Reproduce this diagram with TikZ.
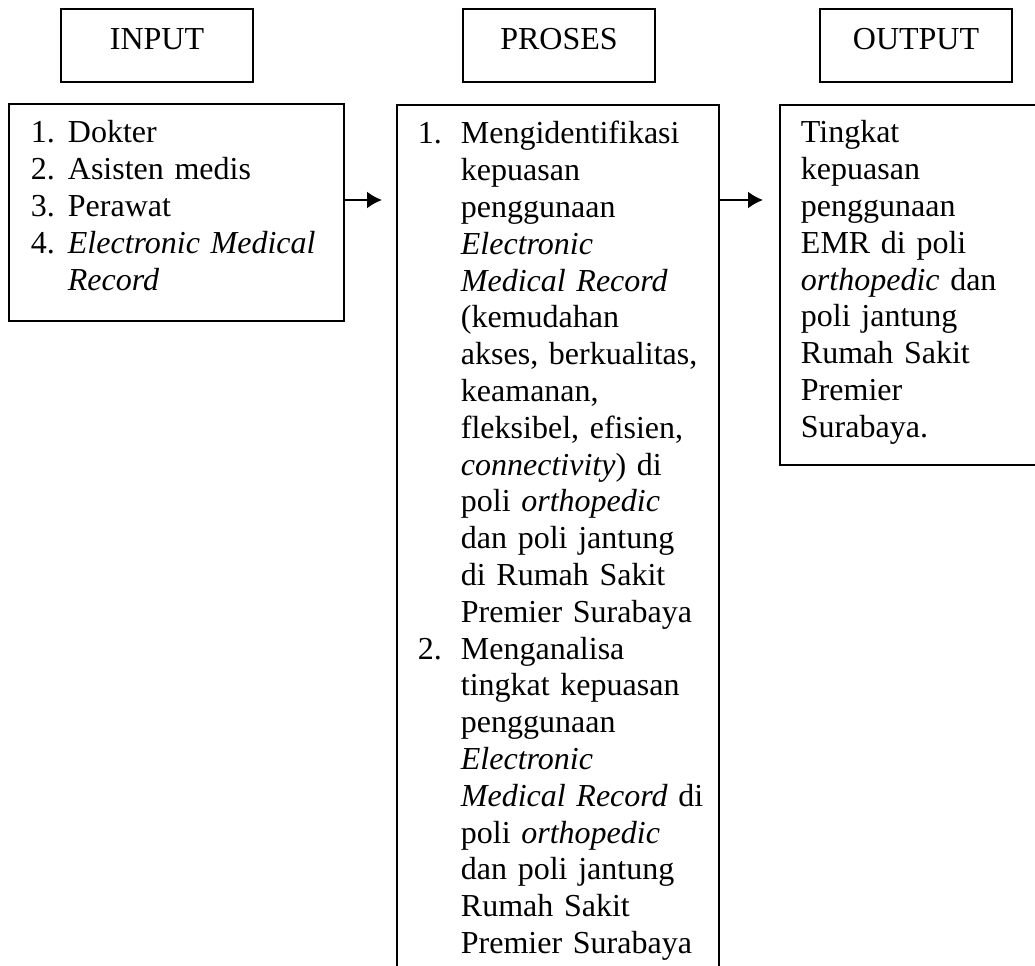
\documentclass[tikz,border=0pt]{standalone}
\usepackage{fontspec}
\setmainfont{Liberation Serif}
\usetikzlibrary{arrows.meta}
\begin{document}
\begin{tikzpicture}[x=0.375pt,y=-0.375pt,
    font=\fontsize{12}{13.8}\selectfont,
    head/.style={draw,line width=0.7pt,inner sep=0pt,minimum width=72pt,
      text height=15.375pt,text depth=12pt,anchor=north},
    listbox/.style={draw,line width=0.7pt,inner ysep=0pt,align=left,anchor=north west},
    arr/.style={line width=0.7pt,-{Latex[length=5.6pt,width=6.3pt]}}]
  \useasboundingbox (0,0) rectangle (1035,965);
  % headers
  \node[head] (inhead) at (157,8) {INPUT};
  \node[head] (prochead) at (559,8) {PROSES};
  \node[head] (outhead) at (916,8) {OUTPUT};
  % input list
  \node[listbox,inner xsep=8.25pt,text width=109.125pt,
        text height=14.625pt,text depth=66.75pt] (inlist) at (8,103) {%
    \begin{tabular}[t]{@{}p{13.875pt}@{}l@{}}
      1. & Dokter\\
      2. & Asisten medis\\
      3. & Perawat\\
      4. & \textit{Electronic Medical}\\
         & \textit{Record}
    \end{tabular}};
  % process list
  \node[listbox,inner xsep=7.875pt,text width=105pt,
        text height=14.625pt,text depth=321.4pt] (proclist) at (396,104) {%
    \begin{tabular}[t]{@{}p{16.125pt}@{}l@{}}
      1. & Mengidentifikasi\\
         & kepuasan\\
         & penggunaan\\
         & \textit{Electronic}\\
         & \textit{Medical Record}\\
         & (kemudahan\\
         & akses, berkualitas,\\
         & keamanan,\\
         & fleksibel, efisien,\\
         & \textit{connectivity}) di\\
         & poli \textit{orthopedic}\\
         & dan poli jantung\\
         & di Rumah Sakit\\
         & Premier Surabaya\\
      2. & Menganalisa\\
         & tingkat kepuasan\\
         & penggunaan\\
         & \textit{Electronic}\\
         & \textit{Medical Record} di\\
         & poli \textit{orthopedic}\\
         & dan poli jantung\\
         & Rumah Sakit\\
         & Premier Surabaya
    \end{tabular}};
  % output list
  \node[listbox,inner xsep=7.875pt,text width=85.875pt,
        text height=14.25pt,text depth=120.75pt] (outlist) at (779,104) {%
    \begin{tabular}[t]{@{}l@{}}
      Tingkat\\
      kepuasan\\
      penggunaan\\
      EMR di poli\\
      \textit{orthopedic} dan\\
      poli jantung\\
      Rumah Sakit\\
      Premier\\
      Surabaya.
    \end{tabular}};
  % arrows
  \draw[arr] ([yshift=-36.375pt]inlist.north east) -- ([xshift=-5.25pt,yshift=-36pt]proclist.north west);
  \draw[arr] ([yshift=-36pt]proclist.north east) -- ([xshift=-6pt,yshift=-36pt]outlist.north west);
\end{tikzpicture}
\end{document}
